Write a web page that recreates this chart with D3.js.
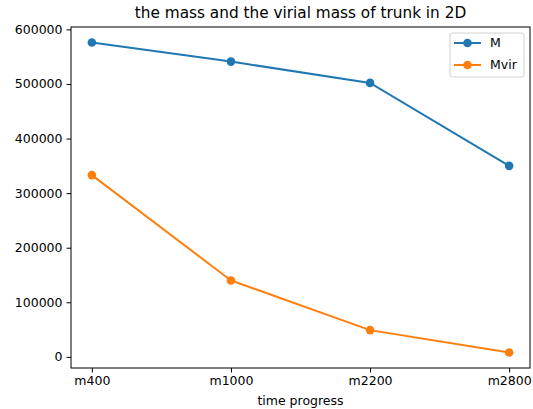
<!DOCTYPE html>
<html>
<head>
<meta charset="utf-8">
<script src="https://cdn.jsdelivr.net/npm/d3@7"></script>
<style>
  html, body { margin: 0; padding: 0; background: #fff; }
  svg { display: block; }
  text { font-family: "DejaVu Sans", sans-serif; fill: #000; }
</style>
</head>
<body>
<svg id="chart" width="533" height="409"></svg>
<script>
// Snapshots along the time axis
const categories = ["m400", "m1000", "m2200", "m2800"];
// Total mass and virial mass of the trunk at each snapshot
const massM = [576000, 541000, 502000, 350000];
const massMvir = [333000, 140000, 49000, 8000];
const yTicks = [0, 100000, 200000, 300000, 400000, 500000, 600000];

const series = [
  { name: "M", values: massM, color: "#1f77b4" },
  { name: "Mvir", values: massMvir, color: "#ff7f0e" }
];

const W = 533, H = 409;
const margin = { left: 71, right: 3, top: 27, bottom: 41 };
const svg = d3.select("#chart");

const x = d3.scalePoint()
  .domain(categories)
  .range([margin.left, W - margin.right])
  .padding(0.15);

// y extent with 5% padding around the data
const all = massM.concat(massMvir);
const lo = d3.min(all), hi = d3.max(all), pad = (hi - lo) * 0.05;
const y = d3.scaleLinear()
  .domain([lo - pad, hi + pad])
  .range([H - margin.bottom, margin.top]);

// Axes
const xAxis = svg.append("g")
  .attr("transform", `translate(0,${H - margin.bottom})`)
  .call(d3.axisBottom(x).tickSize(4.5).tickPadding(4).tickSizeOuter(0));
const yAxis = svg.append("g")
  .attr("transform", `translate(${margin.left},0)`)
  .call(d3.axisLeft(y).tickValues(yTicks).tickFormat(d3.format("d")).tickSize(4.5).tickPadding(4).tickSizeOuter(0));
[xAxis, yAxis].forEach(g => {
  g.select(".domain").remove();
  g.selectAll("text").style("font-size", "12.5px").style("font-family", "DejaVu Sans, sans-serif");
  g.selectAll("line").attr("stroke", "#000").attr("stroke-width", 1);
});

// Frame
svg.append("rect")
  .attr("x", margin.left).attr("y", margin.top)
  .attr("width", W - margin.right - margin.left)
  .attr("height", H - margin.bottom - margin.top)
  .attr("fill", "none").attr("stroke", "#000").attr("stroke-width", 1);

// Lines and markers
const line = d3.line().x((d, i) => x(categories[i])).y(d => y(d));
series.forEach(s => {
  svg.append("path")
    .datum(s.values)
    .attr("d", line)
    .attr("fill", "none")
    .attr("stroke", s.color)
    .attr("stroke-width", 2);
  svg.selectAll(null)
    .data(s.values)
    .enter().append("circle")
    .attr("cx", (d, i) => x(categories[i]))
    .attr("cy", d => y(d))
    .attr("r", 4.3)
    .attr("fill", s.color);
});

// Title and axis label
svg.append("text")
  .attr("x", (margin.left + W - margin.right) / 2).attr("y", 18)
  .attr("text-anchor", "middle")
  .style("font-size", "15.3px")
  .text("the mass and the virial mass of trunk in 2D");
svg.append("text")
  .attr("x", (margin.left + W - margin.right) / 2).attr("y", 405)
  .attr("text-anchor", "middle")
  .style("font-size", "12.5px")
  .text("time progress");

// Legend
const lg = svg.append("g").attr("transform", "translate(450,33)");
lg.append("rect")
  .attr("width", 74).attr("height", 44).attr("rx", 2.5)
  .attr("fill", "#fff").attr("fill-opacity", 0.8)
  .attr("stroke", "#d0d0d0").attr("stroke-width", 1);
series.forEach((s, i) => {
  const ry = 10 + i * 22;
  lg.append("line")
    .attr("x1", 4).attr("x2", 31).attr("y1", ry).attr("y2", ry)
    .attr("stroke", s.color).attr("stroke-width", 2);
  lg.append("circle").attr("cx", 17.5).attr("cy", ry).attr("r", 4.3).attr("fill", s.color);
  lg.append("text")
    .attr("x", 40).attr("y", ry).attr("dy", "0.35em")
    .style("font-size", "12.5px")
    .text(s.name);
});
</script>
</body>
</html>
